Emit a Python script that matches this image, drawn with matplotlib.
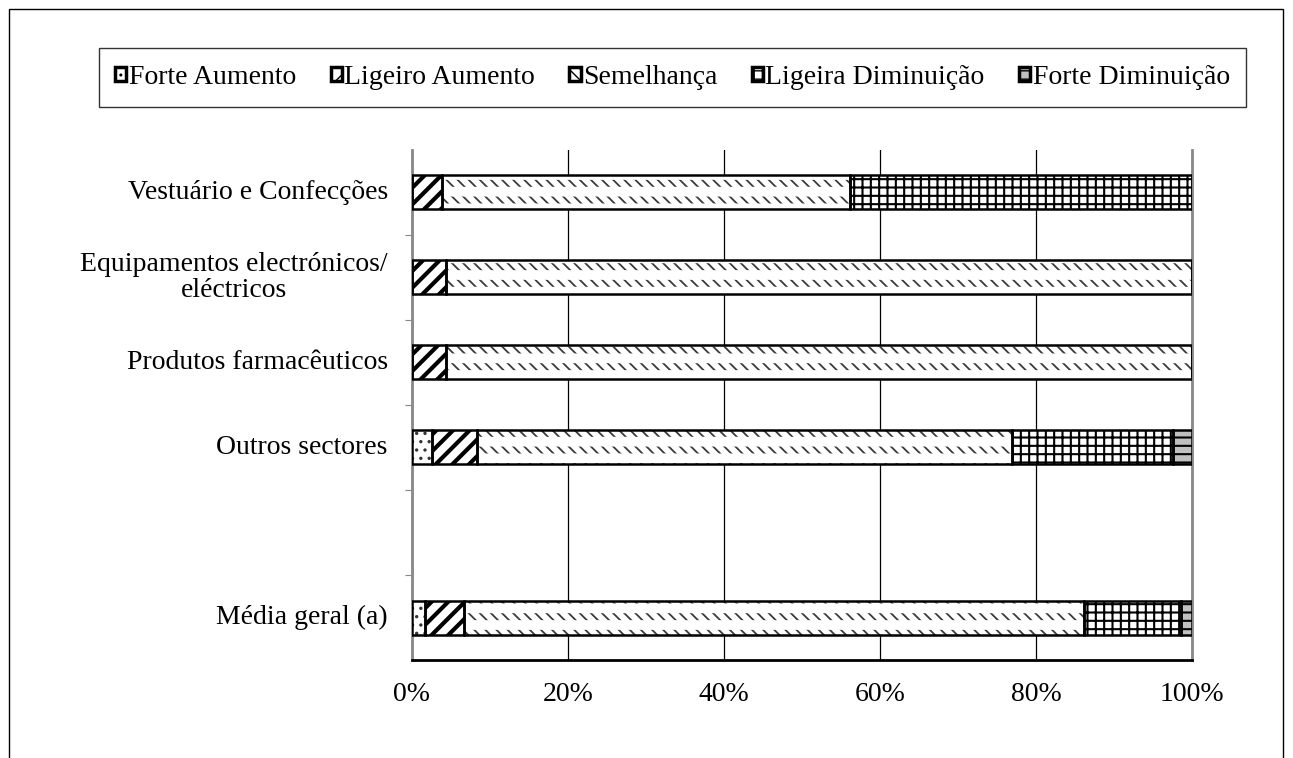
import matplotlib
matplotlib.use("Agg")
import matplotlib.pyplot as plt
from matplotlib.patches import Rectangle
import numpy as np

plt.rcParams['font.family'] = ['Liberation Serif', 'DejaVu Serif']

categories = ["Vestuário e Confecções", "Equipamentos electrónicos/\neléctricos",
              "Produtos farmacêuticos", "Outros sectores", "", "Média geral (a)"]
series = ["Forte Aumento", "Ligeiro Aumento", "Semelhança", "Ligeira Diminuição", "Forte Diminuição"]
forte_aumento = [0.0, 0.0, 0.0, 2.6, 1.7]
ligeiro_aumento = [3.8, 4.4, 4.4, 5.7, 5.0]
semelhanca = [52.3, 95.6, 95.6, 68.6, 79.4]
ligeira_diminuicao = [43.9, 0.0, 0.0, 20.6, 12.5]
forte_diminuicao = [0.0, 0.0, 0.0, 2.5, 1.4]
xticks = [0, 20, 40, 60, 80, 100]
xticklabels = ["0%", "20%", "40%", "60%", "80%", "100%"]

values = [forte_aumento, ligeiro_aumento, semelhanca, ligeira_diminuicao, forte_diminuicao]
hatches = ['..', '//', '\\\\\\', '++', '--']
faces = ['white', 'white', 'white', 'white', '#c0c0c0']
hatch_colors = ['#333333', 'black', '#3a3a3a', 'black', 'black']
hatch_lws = [1.2, 3.0, 1.3, 1.5, 1.5]

fs = 20

fig = plt.figure(figsize=(12.93, 7.58), dpi=100)
fig.patches.append(Rectangle((9/1293, -0.1), (1283-9)/1293, 1.1 - 9/758, transform=fig.transFigure,
                             fill=False, edgecolor='black', linewidth=1.0))

ax = fig.add_axes([412/1293, 1 - 660/758, 780/1293, 510/758])

ypos = [0, 1, 2, 3, 5]
plot_labels = [categories[i] for i in [0, 1, 2, 3, 5]]
left = np.zeros(len(ypos))


def set_hlw(container, lw):
    for p in container:
        if hasattr(p, 'set_hatch_linewidth'):
            p.set_hatch_linewidth(lw)


for s, vals, h, fc, hc, hlw in zip(series, values, hatches, faces, hatch_colors, hatch_lws):
    plt.rcParams['hatch.linewidth'] = hlw
    b = ax.barh(ypos, vals, left=left, height=0.4, color=fc, edgecolor=hc,
                hatch=h, linewidth=0, zorder=3)
    set_hlw(b, hlw)
    if s == "Semelhança":
        plt.rcParams['hatch.linewidth'] = 7.0
        bw = ax.barh(ypos, vals, left=left, height=0.4, facecolor='none', edgecolor='white',
                     hatch='-', linewidth=0, zorder=3.5)
        set_hlw(bw, 7.0)
    ax.barh(ypos, vals, left=left, height=0.4, facecolor='none', edgecolor='black',
            linewidth=1.8, zorder=4)
    left += np.array(vals)

plt.rcParams['hatch.linewidth'] = 1.0

ax.set_xlim(0, 100)
ax.set_ylim(5.5, -0.5)
ax.set_xticks(xticks)
ax.set_xticklabels(xticklabels, fontsize=fs)
ax.set_yticks([0.5, 1.5, 2.5, 3.5, 4.5])
ax.set_yticklabels([])
ax.tick_params(axis='y', length=5, color='#888888')
ax.tick_params(axis='x', length=0, pad=16)
for yp, lab in zip(ypos, plot_labels):
    ax.text(-3.1, yp, lab, ha='right', va='center', fontsize=fs, transform=ax.transData,
            multialignment='center', linespacing=1.1)
ax.grid(axis='x', color='black', linewidth=0.9, zorder=0)
ax.spines['left'].set_color('#888888')
ax.spines['left'].set_linewidth(2)
ax.spines['right'].set_color('#888888')
ax.spines['right'].set_linewidth(2)
ax.spines['top'].set_visible(False)
ax.spines['bottom'].set_color('black')
ax.spines['bottom'].set_linewidth(2)

# legend proxies
proxies = []
for h, fc, hc in zip(hatches, faces, hatch_colors):
    proxies.append(Rectangle((0, 0), 1, 1, facecolor=fc, edgecolor='black', hatch=h,
                             linewidth=2.5))
plt.rcParams['hatch.linewidth'] = 1.0
leg = fig.legend(handles=proxies, labels=series, loc='center',
                 bbox_to_anchor=(100/1293, 1 - 108/758, 1145/1293, 61/758),
                 ncol=5, frameon=True, fancybox=False, edgecolor='black',
                 fontsize=fs, handlelength=0.4, handleheight=0.4, handletextpad=0.08,
                 columnspacing=1.25, borderpad=0.6)
leg.get_frame().set_linewidth(1.0)

fig.savefig("out.png", dpi=100)
